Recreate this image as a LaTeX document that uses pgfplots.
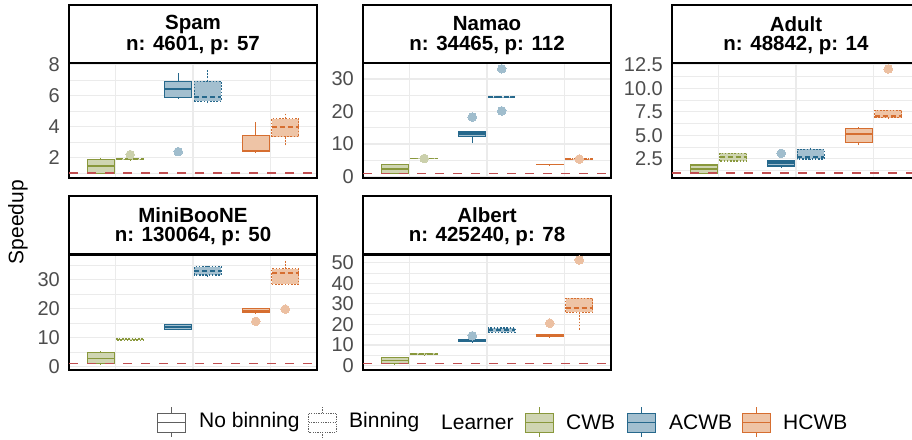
\documentclass[border=0pt]{standalone}
\usepackage{fontspec}
\setmainfont{Liberation Sans}
\usepackage{pgfplots}
\pgfplotsset{compat=1.18}
\usepgfplotslibrary{statistics}

\definecolor{cwbline}{RGB}{137,152,60}
\definecolor{cwbfill}{RGB}{207,213,178}
\definecolor{cwbpt}{RGB}{203,208,172}
\definecolor{acwbline}{RGB}{38,104,140}
\definecolor{acwbfill}{RGB}{163,191,207}
\definecolor{acwbpt}{RGB}{160,189,205}
\definecolor{hcwbline}{RGB}{214,110,48}
\definecolor{hcwbfill}{RGB}{238,196,166}
\definecolor{hcwbpt}{RGB}{236,192,162}
\definecolor{refred}{RGB}{192,78,80}
\definecolor{gridc}{RGB}{235,235,235}
\definecolor{tickc}{RGB}{77,77,77}

\newcommand{\fs}{\fontsize{20pt}{24pt}\selectfont}
\newcommand{\fl}{\fontsize{21pt}{25pt}\selectfont}
\newcommand{\fst}{\fontsize{20.5pt}{24pt}\selectfont\bfseries}

\pgfplotsset{
  boxplot/draw direction=y,
  boxplot/box extend=0.35,
  boxplot/whisker extend=0,
  nbin/.style={draw=#1line, fill=#1fill, solid, line width=1.1pt,
    mark=*, mark size=4.3pt, mark options={draw=#1pt, fill=#1pt, solid, line width=0pt},
    /pgfplots/boxplot/every median/.style={line width=1.7pt}},
  bin/.style={draw=#1line, fill=#1fill, line width=1.1pt,
    dash pattern=on 1.6pt off 1.6pt,
    mark=*, mark size=4.3pt, mark options={draw=#1pt, fill=#1pt, solid, line width=0pt},
    /pgfplots/boxplot/every median/.style={line width=1.7pt, dash pattern=on 5pt off 3pt}},
  panel/.style={scale only axis, width=248pt, height=115pt, anchor=south west,
    disabledatascaling,
    xmin=0.4, xmax=3.6, xtick={1,2,3}, xticklabels={},
    major tick length=0pt, minor tick length=0pt,
    xmajorgrids, ymajorgrids, yminorgrids,
    major grid style={line width=1.3pt, gridc},
    minor grid style={line width=0.6pt, gridc},
    axis line style={line width=1.3pt, black},
    yticklabel style={font=\fs, text=tickc, inner sep=0pt, xshift=-9pt}},
}

% style, colour, position, median, lower q, upper q, lower whisker, upper whisker, outliers
\newcommand{\bx}[9]{\addplot[#1=#2, boxplot prepared={draw position=#3, median=#4,
  lower quartile=#5, upper quartile=#6, lower whisker=#7, upper whisker=#8}] coordinates {#9};}
% reference line at speedup 1
\newcommand{\refline}{\addplot[draw=refred, line width=1.7pt, dash pattern=on 9pt off 9pt, mark=none]
  coordinates {(0.4,1) (3.6,1)};}

\begin{document}
\begin{tikzpicture}[font=\fl]
\path[use as bounding box] (0pt,0pt) rectangle (912pt,439pt);

% ---------- Spam ----------
\begin{axis}[panel, at={(69pt,261pt)}, ymin=0.69, ymax=8.11,
  ytick={2,4,6,8}, yticklabels={2,4,6,8}, minor ytick={1,3,5,7}]
\bx{nbin}{cwb}{0.81}{1.48}{1.0}{1.9}{0.99}{2.0}{}
\bx{bin}{cwb}{1.19}{1.9}{1.86}{1.94}{1.84}{1.96}{(0,2.2)}
\bx{nbin}{acwb}{1.81}{6.43}{5.86}{6.9}{5.8}{7.45}{(0,2.39)}
\bx{bin}{acwb}{2.19}{5.9}{5.65}{6.94}{5.5}{7.66}{}
\bx{nbin}{hcwb}{2.81}{2.45}{2.39}{3.42}{2.28}{4.28}{}
\bx{bin}{hcwb}{3.19}{4.0}{3.34}{4.52}{2.75}{4.87}{}
\refline
\end{axis}

% ---------- Namao ----------
\begin{axis}[panel, at={(363pt,261pt)}, ymin=-0.4, ymax=34.88,
  ytick={0,10,20,30}, yticklabels={0,10,20,30}, minor ytick={5,15,25}]
\bx{nbin}{cwb}{0.81}{2.4}{1.04}{3.8}{1.0}{3.9}{}
\bx{bin}{cwb}{1.19}{5.6}{5.5}{5.7}{5.45}{5.75}{(0,5.6)}
\bx{nbin}{acwb}{1.81}{13.0}{12.2}{13.7}{10.2}{14.0}{(0,18.3)}
\bx{bin}{acwb}{2.19}{24.5}{24.4}{24.6}{24.3}{24.7}{(0,33.1) (0,20.2)}
\bx{nbin}{hcwb}{2.81}{3.7}{3.65}{3.75}{3.6}{3.8}{}
\bx{bin}{hcwb}{3.19}{5.4}{5.35}{5.45}{5.3}{5.5}{(0,5.4)}
\refline
\end{axis}

% ---------- Adult ----------
\begin{axis}[panel, at={(672pt,261pt)}, ymin=0.447, ymax=12.68,
  ytick={2.5,5,7.5,10,12.5}, yticklabels={2.5,5.0,7.5,10.0,12.5},
  minor ytick={1.25,3.75,6.25,8.75,11.25}]
\bx{nbin}{cwb}{0.81}{1.4}{0.95}{1.83}{0.93}{1.94}{}
\bx{bin}{cwb}{1.19}{2.68}{2.26}{3.07}{2.2}{3.1}{}
\bx{nbin}{acwb}{1.81}{2.04}{1.72}{2.26}{1.48}{2.3}{(0,3.07)}
\bx{bin}{acwb}{2.19}{2.7}{2.47}{3.5}{2.4}{3.7}{}
\bx{nbin}{hcwb}{2.81}{5.16}{4.2}{5.69}{3.93}{5.87}{}
\bx{bin}{hcwb}{3.19}{7.07}{6.86}{7.65}{6.7}{7.7}{(0,12.04)}
\refline
\end{axis}

% ---------- MiniBooNE ----------
\begin{axis}[panel, at={(69pt,69pt)}, ymin=-1.2, ymax=38.5,
  ytick={0,10,20,30}, yticklabels={0,10,20,30}, minor ytick={5,15,25,35}]
\bx{nbin}{cwb}{0.81}{2.8}{0.9}{4.9}{0.85}{5.3}{}
\bx{bin}{cwb}{1.19}{9.3}{9.1}{9.5}{9.0}{9.6}{}
\bx{nbin}{acwb}{1.81}{13.7}{12.9}{14.4}{12.5}{14.5}{}
\bx{bin}{acwb}{2.19}{33.0}{31.6}{34.4}{30.8}{34.6}{}
\bx{nbin}{hcwb}{2.81}{19.2}{18.5}{19.9}{18.4}{20.2}{(0,15.6)}
\bx{bin}{hcwb}{3.19}{32.2}{28.4}{33.7}{28.3}{36.9}{(0,19.8)}
\refline
\end{axis}

% ---------- Albert ----------
\begin{axis}[panel, at={(363pt,69pt)}, ymin=-2.1, ymax=53.7,
  ytick={0,10,20,30,40,50}, yticklabels={0,10,20,30,40,50}, minor ytick={5,15,25,35,45}]
\bx{nbin}{cwb}{0.81}{2.45}{1.0}{3.9}{0.9}{4.0}{}
\bx{bin}{cwb}{1.19}{5.7}{5.3}{6.0}{5.2}{6.1}{}
\bx{nbin}{acwb}{1.81}{12.2}{11.6}{12.7}{11.3}{12.9}{(0,14.5)}
\bx{bin}{acwb}{2.19}{17.2}{16.3}{18.3}{16.0}{18.5}{}
\bx{nbin}{hcwb}{2.81}{14.5}{14.0}{15.1}{13.7}{15.2}{(0,20.6)}
\bx{bin}{hcwb}{3.19}{28.1}{26.0}{32.7}{17.2}{32.7}{(0,51.3)}
\refline
\end{axis}

\begin{scope}[x=1pt, y=1pt]
% ---------- strips ----------
\begin{scope}[line width=1.3pt]
\draw (69,376) rectangle (317,434);
\draw (363,376) rectangle (611,434);
\draw (672,376) rectangle (920,434);
\draw (69,185) rectangle (317,243);
\draw (363,185) rectangle (611,243);
\end{scope}
\begin{scope}[font=\fst]
\node at (193,415) {Spam};      \node at (193,394) {n: 4601, p: 57};
\node at (487,415) {Namao};     \node at (487,394) {n: 34465, p: 112};
\node at (796,415) {Adult};     \node at (796,394) {n: 48842, p: 14};
\node at (193,224) {MiniBooNE}; \node at (193,203) {n: 130064, p: 50};
\node at (487,224) {Albert};    \node at (487,203) {n: 425240, p: 78};
\end{scope}

% ---------- y title ----------
\node[rotate=90] at (18,217) {Speedup};

% ---------- legend ----------
\newcommand{\legicon}[3]{%
  \draw[#2, fill=#3, line width=1pt] (#1-14,7) rectangle (#1+14,26);
  \draw[#2, line width=1pt] (#1-14,16.5) -- (#1+14,16.5);
  \draw[#2, line width=1pt] (#1,26) -- (#1,32) (#1,7) -- (#1,2);}
\legicon{171}{gray!75!black}{white}
\node[anchor=west, inner sep=0pt] at (199,17) {No binning};
\legicon{322.5}{gray!75!black, dash pattern=on 1.2pt off 1.2pt}{white}
\node[anchor=west, inner sep=0pt] at (349,17) {Binning};
\node[anchor=west, inner sep=0pt] at (441,17) {Learner};
\legicon{539}{cwbline}{cwbfill}
\node[anchor=west, inner sep=0pt] at (566,17) {CWB};
\legicon{641}{acwbline}{acwbfill}
\node[anchor=west, inner sep=0pt] at (669,17) {ACWB};
\legicon{756}{hcwbline}{hcwbfill}
\node[anchor=west, inner sep=0pt] at (783,17) {HCWB};
\end{scope}
\end{tikzpicture}
\end{document}
